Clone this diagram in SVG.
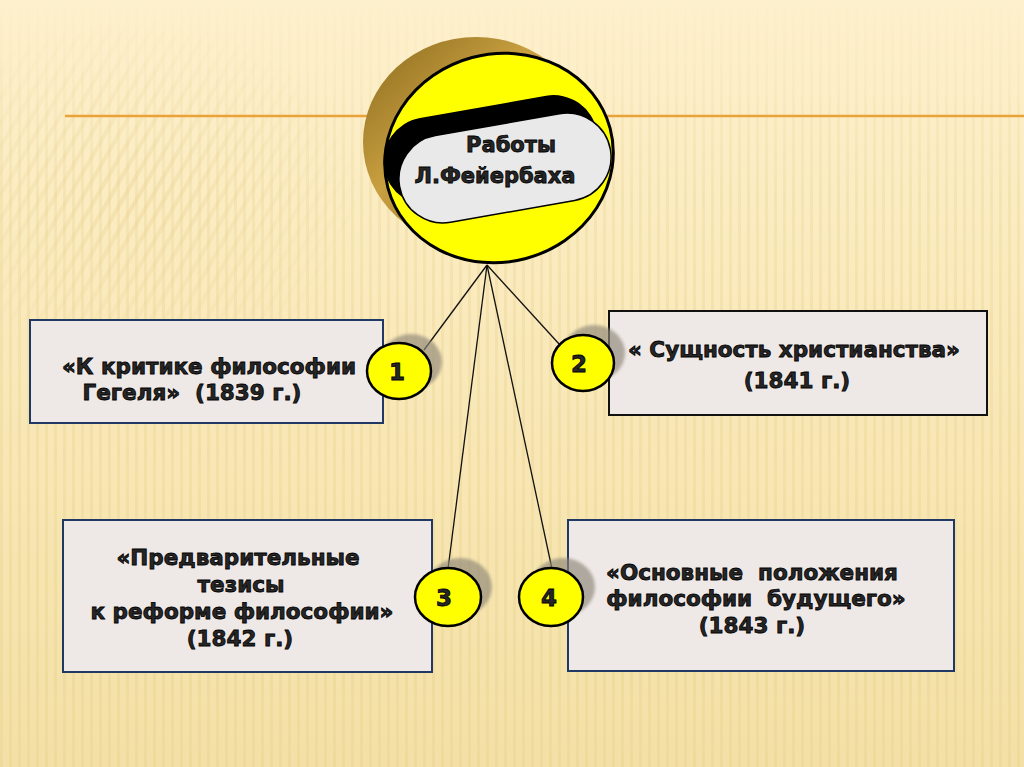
<svg xmlns="http://www.w3.org/2000/svg" width="1024" height="767" viewBox="0 0 1024 767">
<defs>
<linearGradient id="bg" x1="0" y1="0" x2="0" y2="1">
<stop offset="0" stop-color="#FDF0CC"/>
<stop offset="0.5" stop-color="#F9E8B8"/>
<stop offset="1" stop-color="#F4E0A6"/>
</linearGradient>
<pattern id="vstripes" width="9" height="20" patternUnits="userSpaceOnUse">
<rect x="0" y="0" width="3" height="20" fill="#E6CD86" opacity="0.3"/>
</pattern>
<pattern id="dstripes" width="12" height="12" patternUnits="userSpaceOnUse" patternTransform="rotate(30)">
<rect x="0" y="0" width="4" height="12" fill="#EBD396" opacity="0.5"/>
</pattern>
<linearGradient id="vfade" x1="0" y1="0" x2="0" y2="1">
<stop offset="0" stop-color="#fff" stop-opacity="0"/>
<stop offset="0.25" stop-color="#fff" stop-opacity="0.8"/>
<stop offset="1" stop-color="#fff" stop-opacity="1"/>
</linearGradient>
<mask id="vmask"><rect width="1024" height="767" fill="url(#vfade)"/></mask>
<radialGradient id="dfade" cx="0.35" cy="0.6" r="0.6">
<stop offset="0" stop-color="#fff" stop-opacity="0.9"/>
<stop offset="1" stop-color="#fff" stop-opacity="0"/>
</radialGradient>
<mask id="dmask"><rect x="0" y="20" width="380" height="300" fill="url(#dfade)"/></mask>
<linearGradient id="gold" x1="0" y1="0" x2="1" y2="1">
<stop offset="0" stop-color="#8A6A1E"/>
<stop offset="0.4" stop-color="#C9A040"/>
<stop offset="1" stop-color="#7A5A10"/>
</linearGradient>
<filter id="blur" x="-30%" y="-30%" width="160%" height="160%"><feGaussianBlur stdDeviation="1.5"/></filter>
<style>
.box{fill:#EEE8E6;stroke-width:2}
.navy{stroke:#1F3864}
.blk{stroke:#111}
.t{font-family:"DejaVu Sans","Liberation Sans",sans-serif;font-weight:bold;font-size:21.5px;fill:#262626;stroke:#000;stroke-width:0.8;text-anchor:middle}
.num{font-family:"DejaVu Sans","Liberation Sans",sans-serif;font-weight:bold;font-size:23px;fill:#262626;stroke:#000;stroke-width:0.8;text-anchor:middle}
.circ{fill:#FFFF00;stroke:#000;stroke-width:2.5}
.shad{fill:#8E8778;opacity:0.65}
.con{stroke:#111;stroke-width:1.3;fill:none}
</style>
</defs>

<g id="background">
<rect width="1024" height="767" fill="url(#bg)"/>
<rect width="1024" height="767" fill="url(#vstripes)" mask="url(#vmask)"/>
<rect x="0" y="20" width="380" height="300" fill="url(#dstripes)" mask="url(#dmask)"/>
<line x1="65" y1="116" x2="1024" y2="116" stroke="#E9A33A" stroke-width="2.5"/>
</g>

<g id="connectors">
<line class="con" x1="487" y1="265" x2="424" y2="350"/>
<line class="con" x1="487" y1="265" x2="560" y2="345"/>
<line class="con" x1="487" y1="265" x2="448" y2="569"/>
<line class="con" x1="487" y1="265" x2="552" y2="569"/>
</g>

<g id="center">
<ellipse cx="476" cy="142" rx="113" ry="105" fill="url(#gold)"/>
<ellipse cx="499" cy="158" rx="115" ry="104" fill="#FFFF00" stroke="#000" stroke-width="3" transform="rotate(-15 499 158)"/>
<g transform="rotate(-10 505 168)">
<rect x="386" y="104" width="216" height="88" rx="44" fill="#000"/>
<rect x="398" y="124" width="214" height="88" rx="44" fill="#E9E9E9" stroke="#000" stroke-width="1.5"/>
</g>
<text class="t" x="511" y="152" style="font-size:21px">Работы</text>
<text class="t" x="495" y="183" style="font-size:21px">Л.Фейербаха</text>
</g>

<g id="node1">
<rect class="box navy" x="30" y="320" width="353" height="103"/>
<text class="t" x="209" y="374">«К критике философии</text>
<text class="t" x="192" y="400" xml:space="preserve">Гегеля»  (1839 г.)</text>
</g>

<g id="node2">
<rect class="box blk" x="609" y="311" width="378" height="104"/>
<text class="t" x="794" y="357">« Сущность христианства»</text>
<text class="t" x="797" y="388">(1841 г.)</text>
</g>

<g id="node3">
<rect class="box navy" x="63" y="520" width="369" height="152"/>
<text class="t" x="238" y="565">«Предварительные</text>
<text class="t" x="241" y="592">тезисы</text>
<text class="t" x="242" y="619">к реформе философии»</text>
<text class="t" x="240" y="646">(1842 г.)</text>
</g>

<g id="node4">
<rect class="box navy" x="568" y="520" width="386" height="151"/>
<text class="t" x="752" y="580" xml:space="preserve">«Основные  положения</text>
<text class="t" x="756" y="606" xml:space="preserve">философии  будущего»</text>
<text class="t" x="752" y="633">(1843 г.)</text>
</g>

<g id="badge1">
<ellipse class="shad" cx="411" cy="362" rx="31" ry="28" filter="url(#blur)"/>
<ellipse class="circ" cx="399" cy="371" rx="32" ry="28"/>
<text class="num" x="397" y="380">1</text>
</g>
<g id="badge2">
<ellipse class="shad" cx="594" cy="353" rx="31" ry="28" filter="url(#blur)"/>
<ellipse class="circ" cx="583" cy="363" rx="31" ry="28"/>
<text class="num" x="579" y="372">2</text>
</g>
<g id="badge3">
<ellipse class="shad" cx="460" cy="587" rx="32" ry="29" filter="url(#blur)"/>
<ellipse class="circ" cx="448" cy="597" rx="33" ry="29"/>
<text class="num" x="444" y="606">3</text>
</g>
<g id="badge4">
<ellipse class="shad" cx="563" cy="587" rx="32" ry="29" filter="url(#blur)"/>
<ellipse class="circ" cx="551" cy="597" rx="32" ry="29"/>
<text class="num" x="549" y="606">4</text>
</g>
</svg>
